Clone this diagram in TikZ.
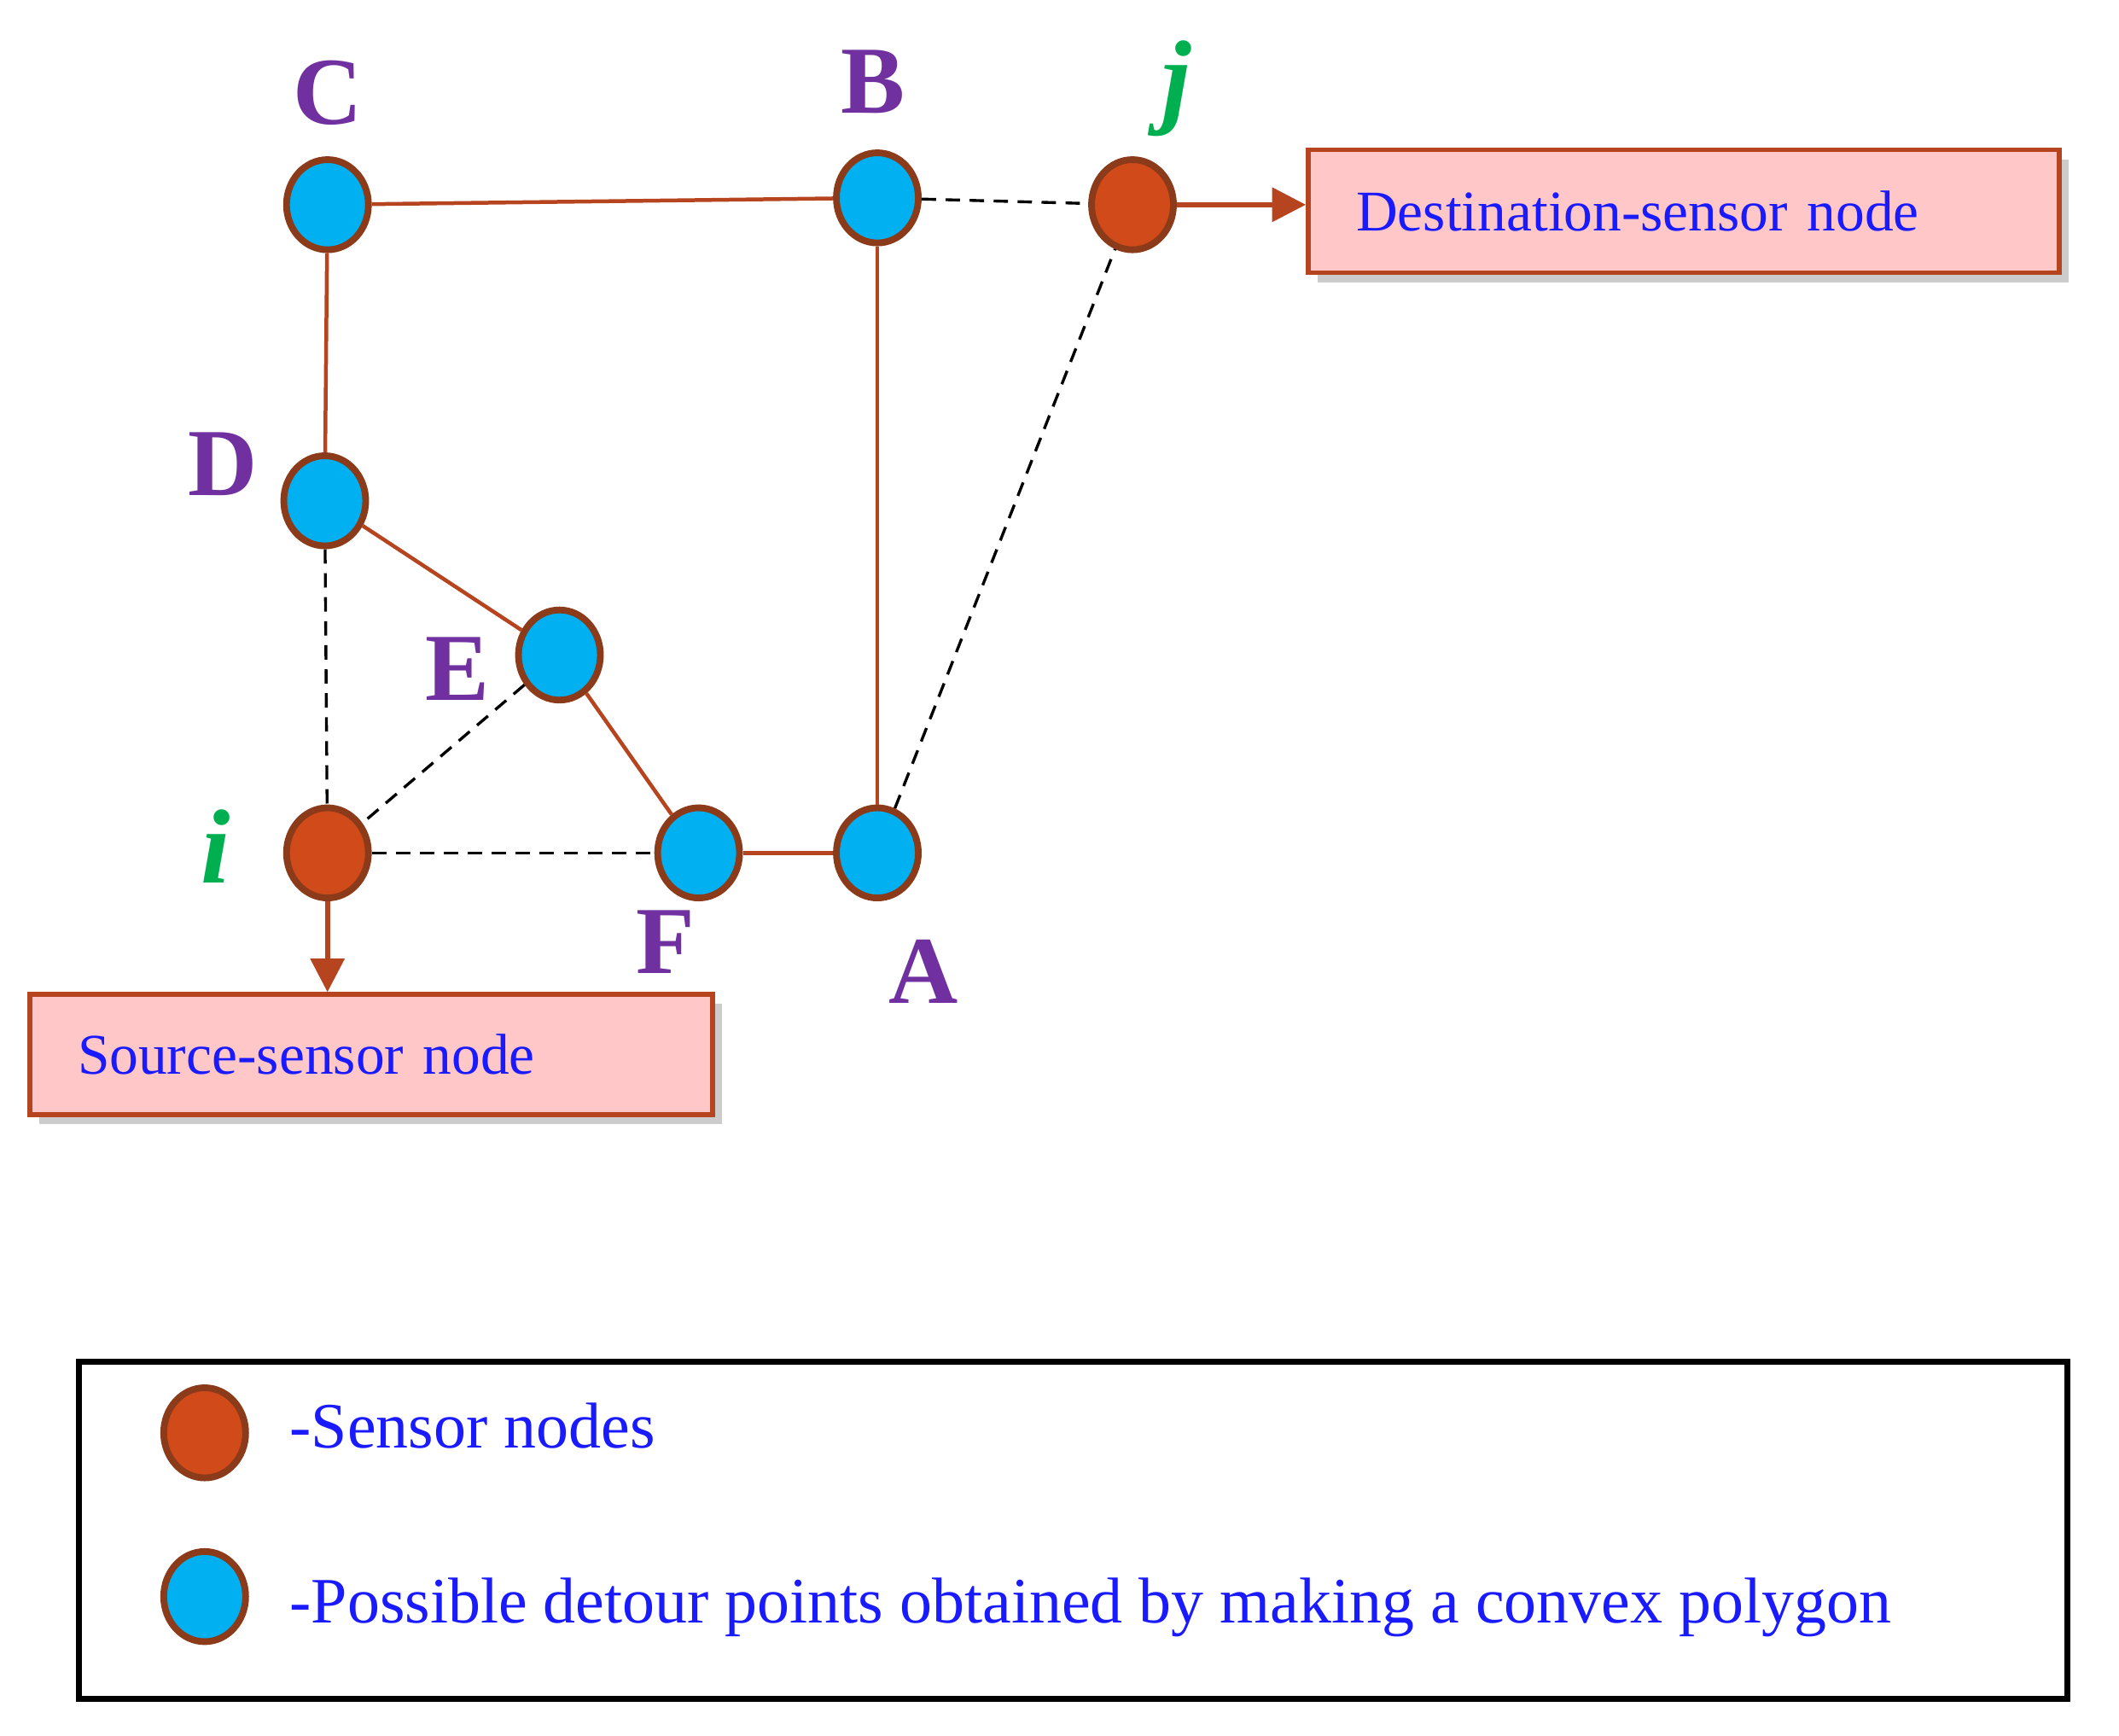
\documentclass[tikz,border=0pt]{standalone}
\usepackage{fontspec}
\setmainfont{Liberation Serif}
\usetikzlibrary{shadows,arrows.meta,shapes.geometric}
\definecolor{sens}{HTML}{D04A1A}
\definecolor{rim}{HTML}{8B3A1A}
\definecolor{detour}{HTML}{00B0F0}
\definecolor{edge}{HTML}{B5441F}
\definecolor{lbl}{HTML}{7030A0}
\definecolor{grn}{HTML}{00B050}
\definecolor{txt}{HTML}{1A1AFF}
\definecolor{boxfill}{HTML}{FFC7C7}
\tikzset{
  pt/.style={ellipse, draw=rim, line width=1.4pt, minimum width=0.6cm, minimum height=0.66cm, inner sep=0pt},
  sensor/.style={pt, fill=sens},
  det/.style={pt, fill=detour},
  lab/.style={lbl, font=\fontsize{20}{20}\selectfont\bfseries},
  glab/.style={grn, font=\fontsize{22}{22}\selectfont\bfseries\itshape},
  link/.style={edge, line width=0.8pt},
  dashlink/.style={black, densely dashed, line width=0.6pt},
  box/.style={draw=edge, line width=1pt, fill=boxfill, drop shadow={shadow xshift=2pt, shadow yshift=-2pt, opacity=0.4},
    text=txt, font=\fontsize{12}{12}\selectfont, align=left, anchor=north west, inner xsep=10pt},
  legtext/.style={txt, font=\fontsize{13.5}{13.5}\selectfont, anchor=west}
}
\begin{document}
\begin{tikzpicture}[x=0.01cm,y=-0.01cm]
\useasboundingbox (0,0) rectangle (1553,1272);
% nodes
\node[det] (C) at (240,150) {};
\node[det] (B) at (643,145) {};
\node[sensor] (j) at (830,150) {};
\node[det] (D) at (238,367) {};
\node[det] (E) at (410,480) {};
\node[sensor] (i) at (240,625) {};
\node[det] (F) at (512,625) {};
\node[det] (A) at (643,625) {};
% labels
\node[lab] at (240,68) {C};
\node[lab] at (640,60) {B};
\node[glab] at (862,65) {j};
\node[lab] at (163,340) {D};
\node[lab] at (335,490) {E};
\node[glab] at (158,620) {i};
\node[lab] at (488,690) {F};
\node[lab] at (677,712) {A};
% solid edges
\draw[link] (C) -- (B);
\draw[link] (C) -- (D);
\draw[link] (D) -- (E);
\draw[link] (E) -- (F);
\draw[link] (F) -- (A);
\draw[link] (B) -- (A);
% dashed
\draw[dashlink] (B) -- (j);
\draw[dashlink] (A) -- (j);
\draw[dashlink] (D) -- (i);
\draw[dashlink] (E) -- (i);
\draw[dashlink] (i) -- (F);
% boxes
\node[box, minimum width=5.3cm, minimum height=0.9cm, text width=4.8cm] (dst) at (957,108) {Destination-sensor node};
\node[box, minimum width=4.82cm, minimum height=0.88cm, text width=4.3cm] (src) at (20,727) {Source-sensor node};
\draw[edge, line width=1pt, -{Triangle[length=7pt,width=7pt]}] (j) -- (j -| dst.west);
\draw[edge, line width=1pt, -{Triangle[length=7pt,width=7pt]}] (i) -- (src.north -| i);
% legend
\draw[black, line width=1.2pt] (58,998) rectangle (1515,1245);
\node[sensor] (l1) at (150,1050) {};
\node[det] (l2) at (150,1170) {};
\node[legtext] at (200,1045) {-Sensor nodes};
\node[legtext] at (200,1178) {-Possible detour points obtained by making a convex polygon};
\end{tikzpicture}
\end{document}
